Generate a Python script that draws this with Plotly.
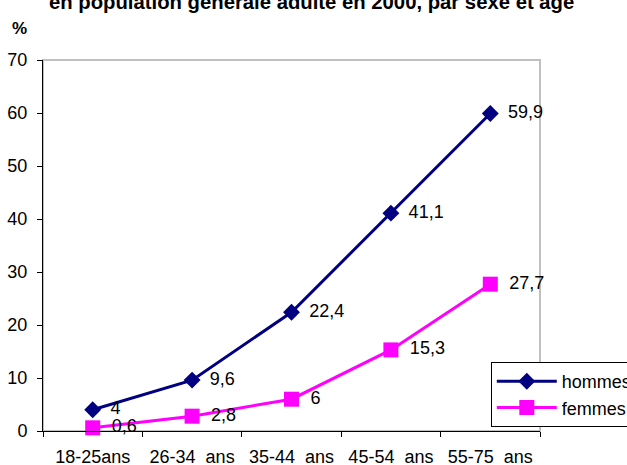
import plotly.graph_objects as go

categories = ["18-25ans", "26-34\u00a0 ans", "35-44\u00a0 ans", "45-54\u00a0 ans", "55-75\u00a0 ans"]
hommes = [4, 9.6, 22.4, 41.1, 59.9]
femmes = [0.6, 2.8, 6, 15.3, 27.7]
hommes_labels = ["4", "9,6", "22,4", "41,1", "59,9"]
femmes_labels = ["0,6", "2,8", "6", "15,3", "27,7"]
y_ticks = [0, 10, 20, 30, 40, 50, 60, 70]

FONT = "Arial, Liberation Sans, sans-serif"
PAD = "\u00a0\u2009"

fig = go.Figure()
fig.add_trace(go.Scatter(
    x=categories, y=hommes, name="hommes", mode="lines+markers+text",
    line=dict(color="#000080", width=3),
    marker=dict(symbol="diamond", size=13, color="#000080"),
    text=[PAD + t for t in hommes_labels], textposition="middle right",
    textfont=dict(family=FONT, size=18, color="#000000"),
    cliponaxis=False,
))
fig.add_trace(go.Scatter(
    x=categories, y=femmes, name="femmes", mode="lines+markers+text",
    line=dict(color="#FF00FF", width=3),
    marker=dict(symbol="square", size=15, color="#FF00FF"),
    text=[PAD + t for t in femmes_labels], textposition="middle right",
    textfont=dict(family=FONT, size=18, color="#000000"),
    cliponaxis=False,
))

fig.update_layout(
    width=627, height=465,
    margin=dict(l=43, r=87, t=60, b=34, autoexpand=False),
    paper_bgcolor="white", plot_bgcolor="white",
    font=dict(family=FONT, size=18, color="#000000"),
    showlegend=True,
    legend=dict(
        x=0.901, y=0.186, xanchor="left", yanchor="top",
        bordercolor="#000000", borderwidth=1, bgcolor="white",
        font=dict(family=FONT, size=18, color="#000000"),
        itemwidth=60, tracegroupgap=0,
    ),
    xaxis=dict(
        type="category", showgrid=False, showline=True, linecolor="#000000", linewidth=1,
        ticks="outside", ticklen=5, tickcolor="#000000", tickson="boundaries",
        range=[-0.5, 4.5], zeroline=False, ticklabelstandoff=9,
        tickfont=dict(family=FONT, size=18, color="#000000"),
    ),
    yaxis=dict(
        range=[0, 70], tickvals=y_ticks, showgrid=False, showline=True,
        linecolor="#000000", linewidth=1, ticks="outside", ticklen=5, tickcolor="#000000",
        zeroline=False, ticklabelstandoff=6,
        tickfont=dict(family=FONT, size=18, color="#000000"),
    ),
    shapes=[dict(type="rect", xref="paper", yref="paper", x0=0, x1=1, y0=0, y1=1,
                 line=dict(color="#C0C0C0", width=2), layer="below")],
    annotations=[
        dict(text="<b>en population générale adulte en 2000, par sexe et âge</b>",
             xref="paper", yref="paper", x=0.541, y=1.156, xanchor="center", yanchor="middle",
             showarrow=False, font=dict(family=FONT, size=20.3, color="#000000")),
        dict(text="<b>%</b>", xref="paper", yref="paper", x=-0.047, y=1.086,
             xanchor="center", yanchor="middle", showarrow=False,
             font=dict(family=FONT, size=17, color="#000000")),
    ],
)

fig.write_html("out.html", config={"displayModeBar": False},
               post_script="document.body.style.margin='0';")
